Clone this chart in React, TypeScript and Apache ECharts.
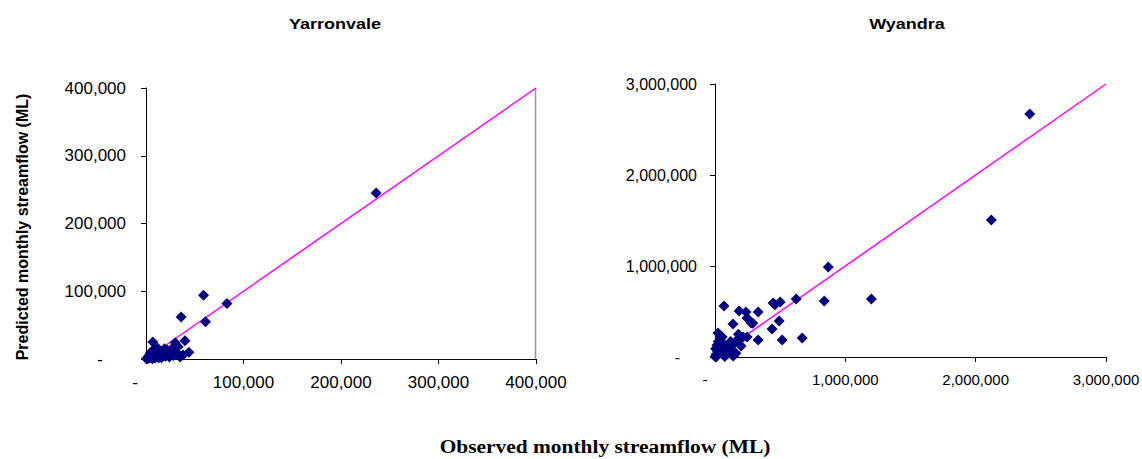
import React, { useEffect, useRef } from "react";
import * as echarts from "echarts";

const yarronObserved = [236000, 83000, 59000, 61000, 36000, 40000, 44000, 7000, 30000, 33000, 22000, 17000, 26000, 12000, 15000, 20000, 28000, 35000, 10000, 5000, 3000, 2000, 1000, 500, 4000, 8000, 6000, 9000, 11000, 13000, 18000, 24000, 14000, 19000, 16000, 25000, 31000, 38000, 2500, 1500, 800, 3500, 6500, 9500, 7500, 12000, 21000, 27000, 4500, 1200];
const yarronPredicted = [245000, 82000, 94000, 55000, 62000, 27000, 10000, 25000, 24000, 18000, 13000, 10000, 12000, 16000, 6000, 4000, 5000, 3000, 8000, 3000, 1000, 2000, 500, 300, 6000, 2000, 11000, 14000, 4000, 2000, 8000, 3000, 12000, 15000, 2000, 9000, 10000, 6000, 4000, 800, 1200, 2500, 500, 1500, 4500, 9000, 7000, 16000, 9000, 200];

const wyandraObserved = [2415000, 2120000, 869000, 1200000, 838000, 623000, 500000, 446000, 460000, 69000, 185000, 238000, 331000, 246000, 277000, 290000, 492000, 138000, 438000, 515000, 669000, 331000, 246000, 215000, 170000, 23000, 120000, 150000, 100000, 80000, 60000, 40000, 30000, 20000, 10000, 5000, 50000, 90000, 130000, 70000, 110000, 15000, 35000, 25000, 45000, 160000, 200000, 180000, 5000, 55000, 75000, 140000, 12000, 2000];
const wyandraPredicted = [2670000, 1505000, 989000, 637000, 615000, 637000, 604000, 593000, 575000, 560000, 505000, 494000, 494000, 428000, 373000, 370000, 396000, 363000, 307000, 187000, 209000, 187000, 220000, 220000, 190000, 264000, 170000, 150000, 120000, 80000, 150000, 200000, 100000, 60000, 30000, 10000, 40000, 30000, 60000, 20000, 90000, 130000, 50000, 170000, 110000, 40000, 120000, 250000, 90000, 220000, 5000, 10000, 5000, 2000];

const yarronTicks = [0, 100000, 200000, 300000, 400000];
const wyandraTicks = [0, 1000000, 2000000, 3000000];

const chartTitles = ["Yarronvale", "Wyandra"];
const yTitle = "Predicted monthly streamflow (ML)";
const xTitle = "Observed monthly streamflow (ML)";

const pairs = (xs: number[], ys: number[]) => xs.map((x, i) => [x, ys[i]]);

function makeAxis(
  ticks: number[],
  gridIndex: number,
  margin: number,
  zeroPad: number,
  fontSize: number
) {
  const max = ticks[ticks.length - 1];
  const labelStyle = {
    fontFamily: "Arial, 'Liberation Sans', sans-serif",
    fontSize,
    color: "#000",
  };
  return {
    type: "value",
    gridIndex,
    min: 0,
    max,
    interval: ticks[1] - ticks[0],
    splitLine: { show: false },
    axisLine: { show: true, onZero: false, lineStyle: { color: "#000", width: 1 } },
    axisTick: { show: true, inside: false, length: 5, lineStyle: { color: "#000" } },
    axisLabel: {
      ...labelStyle,
      margin,
      hideOverlap: false,
      formatter: (v: number) => (v === 0 ? "{z|-}" : v.toLocaleString("en-US")),
      rich: {
        z: { ...labelStyle, padding: [0, zeroPad, 0, 0] },
      },
    },
  };
}

const titleText = (text: string, x: number) => ({
  type: "text",
  x,
  y: 24,
  scaleX: 1.2,
  style: {
    text,
    font: "bold 15px Arial, 'Liberation Sans', sans-serif",
    fill: "#000",
    textAlign: "center",
    textVerticalAlign: "middle",
  },
});

export default function App() {
  const ref = useRef<HTMLDivElement>(null);
  useEffect(() => {
    if (!ref.current) return;
    const chart = echarts.init(ref.current, undefined, { renderer: "svg" });
    const markerColor = "#000080";
    chart.setOption({
      animation: false,
      backgroundColor: "#fff",
      grid: [
        { left: 146, top: 88, width: 390, height: 271, outerBoundsMode: "none", containLabel: false },
        { left: 715, top: 84, width: 391, height: 273, outerBoundsMode: "none", containLabel: false },
      ],
      xAxis: [makeAxis(yarronTicks, 0, 15, 22, 17), makeAxis(wyandraTicks, 1, 15, 20, 15)],
      yAxis: [makeAxis(yarronTicks, 0, 20, 23, 17), makeAxis(wyandraTicks, 1, 18, 17, 16)],
      series: [
        {
          type: "line",
          xAxisIndex: 0,
          yAxisIndex: 0,
          data: [[0, 0], [yarronTicks[yarronTicks.length - 1], yarronTicks[yarronTicks.length - 1]]],
          symbol: "none",
          lineStyle: { color: "#ff00ff", width: 1.5 },
          z: 1,
        },
        {
          type: "scatter",
          xAxisIndex: 0,
          yAxisIndex: 0,
          data: pairs(yarronObserved, yarronPredicted),
          symbol: "diamond",
          symbolSize: 11,
          itemStyle: { color: markerColor, opacity: 1 },
          z: 2,
        },
        {
          type: "line",
          xAxisIndex: 1,
          yAxisIndex: 1,
          data: [[0, 0], [wyandraTicks[wyandraTicks.length - 1], wyandraTicks[wyandraTicks.length - 1]]],
          symbol: "none",
          lineStyle: { color: "#ff00ff", width: 1.5 },
          z: 1,
        },
        {
          type: "scatter",
          xAxisIndex: 1,
          yAxisIndex: 1,
          data: pairs(wyandraObserved, wyandraPredicted),
          symbol: "diamond",
          symbolSize: 11,
          itemStyle: { color: markerColor, opacity: 1 },
          z: 2,
        },
      ],
      graphic: [
        {
          type: "line",
          shape: { x1: 535.5, y1: 88, x2: 535.5, y2: 359 },
          style: { stroke: "#999", lineWidth: 1.5 },
          z: 0,
        },
        titleText(chartTitles[0], 335),
        titleText(chartTitles[1], 907),
        {
          type: "text",
          x: 22,
          y: 227,
          rotation: Math.PI / 2,
          style: {
            text: yTitle,
            font: "bold 16px Arial, 'Liberation Sans', sans-serif",
            fill: "#000",
            textAlign: "center",
            textVerticalAlign: "middle",
          },
        },
        {
          type: "text",
          x: 605,
          y: 447,
          scaleX: 1.19,
          style: {
            text: xTitle,
            font: "bold 18px 'Times New Roman', 'Liberation Serif', serif",
            fill: "#000",
            textAlign: "center",
            textVerticalAlign: "middle",
          },
        },
      ],
    });
    return () => chart.dispose();
  }, []);
  return (
    <div
      ref={ref}
      style={{ position: "absolute", left: 0, top: 0, width: 1142, height: 459 }}
    />
  );
}
